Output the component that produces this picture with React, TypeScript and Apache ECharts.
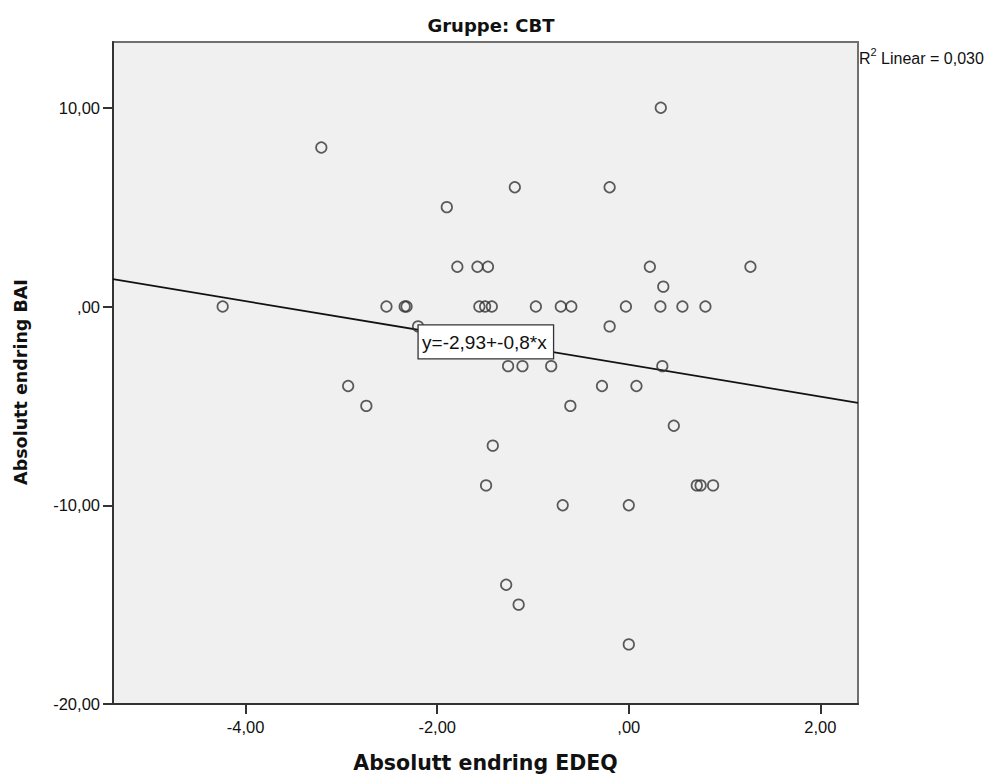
import React, { useEffect, useRef } from 'react';
import * as echarts from 'echarts';

// ---- data ----
const xValues = [
  0.334, -3.21, -1.9, -1.19, -0.2,
  -1.79, -1.58, -1.47, 0.22, 1.27,
  0.36,
  -4.24, -2.53, -2.34, -2.32, -1.56, -1.5, -1.43, -0.97, -0.71, -0.6, -0.03, 0.33, 0.56, 0.8,
  -2.2, -0.2,
  -1.26, -1.11, -0.81, 0.35,
  -2.93, -0.28, 0.08,
  -2.74, -0.61,
  0.47,
  -1.42,
  -1.49, 0.71, 0.75, 0.88,
  -0.69, 0.0,
  -1.28,
  -1.15,
  0.0,
];
const yValues = [
  10, 8, 5, 6, 6,
  2, 2, 2, 2, 2,
  1,
  0, 0, 0, 0, 0, 0, 0, 0, 0, 0, 0, 0, 0, 0,
  -1, -1,
  -3, -3, -3, -3,
  -4, -4, -4,
  -5, -5,
  -6,
  -7,
  -9, -9, -9, -9,
  -10, -10,
  -14,
  -15,
  -17,
];
const xTicks = [-4, -2, 0, 2];
const yTicks = [-20, -10, 0, 10];
const xRange = [-5.385, 2.393];
const yRange = [-20, 13.31];
const fitIntercept = -2.93;
const fitSlope = -0.8;
const fitLabel = 'y=-2,93+-0,8*x';
const fitLabelAnchor = [-2.2, -0.92];
const rSquaredText = '0,030';
const chartTitle = 'Gruppe: CBT';
const xAxisTitle = 'Absolutt endring EDEQ';
const yAxisTitle = 'Absolutt endring BAI';

const fmt = (v: number) => {
  const s = Math.abs(v).toFixed(2).replace('.', ',');
  const t = s.startsWith('0,') ? s.slice(1) : s;
  return (v < 0 ? '-' : '') + t;
};

const App: React.FC = () => {
  const ref = useRef<HTMLDivElement>(null);

  useEffect(() => {
    if (!ref.current) return;
    const chart = echarts.init(ref.current, undefined, { renderer: 'svg' });
    const points = xValues.map((x, i) => [x, yValues[i]]);
    const fitLine = [
      [xRange[0], fitIntercept + fitSlope * xRange[0]],
      [xRange[1], fitIntercept + fitSlope * xRange[1]],
    ];
    const tickFont = {
      fontFamily: '"Liberation Sans", Arial, sans-serif',
      fontSize: 16.5,
      color: '#111',
    };
    const baseGraphics: any[] = [
      {
        type: 'text',
        x: 491,
        y: 25,
        style: {
          text: chartTitle,
          font: 'bold 18px "DejaVu Sans", sans-serif',
          fill: '#111',
          align: 'center',
          verticalAlign: 'middle',
        },
      },
      {
        type: 'text',
        x: 485.5,
        y: 763,
        style: {
          text: xAxisTitle,
          font: 'bold 20.5px "DejaVu Sans", sans-serif',
          fill: '#111',
          align: 'center',
          verticalAlign: 'middle',
        },
      },
      {
        type: 'text',
        x: 21,
        y: 382,
        rotation: Math.PI / 2,
        style: {
          text: yAxisTitle,
          font: 'bold 17.5px "DejaVu Sans", sans-serif',
          fill: '#111',
          align: 'center',
          verticalAlign: 'middle',
        },
      },
      {
        type: 'text',
        x: 859,
        y: 56,
        style: {
          text: '{a|R}{s|2}{a| Linear = ' + rSquaredText + '}',
          align: 'left',
          verticalAlign: 'middle',
          rich: {
            a: {
              fontFamily: '"Liberation Sans", Arial, sans-serif',
              fontSize: 16,
              lineHeight: 20,
              fill: '#111',
              color: '#111',
              verticalAlign: 'bottom',
            },
            s: {
              fontFamily: '"Liberation Sans", Arial, sans-serif',
              fontSize: 11,
              lineHeight: 20,
              fill: '#111',
              color: '#111',
              verticalAlign: 'top',
            },
          },
        },
      },
    ];
    const option: any = {
      animation: false,
      backgroundColor: '#ffffff',
      grid: {
        left: 113,
        top: 42,
        right: 141,
        bottom: 74,
        show: true,
        backgroundColor: '#f0f0f0',
        borderColor: '#707070',
        borderWidth: 2,
      },
      xAxis: {
        type: 'value',
        min: xRange[0],
        max: xRange[1],
        splitLine: { show: false },
        axisLine: { show: true, onZero: false, lineStyle: { color: '#333', width: 2 } },
        axisTick: {
          show: true,
          length: 10,
          lineStyle: { color: '#333', width: 2 },
          customValues: xTicks,
        },
        axisLabel: {
          ...tickFont,
          margin: 14,
          customValues: xTicks,
          formatter: (v: number) => fmt(v),
        },
      },
      yAxis: {
        type: 'value',
        min: yRange[0],
        max: yRange[1],
        splitLine: { show: false },
        axisLine: { show: true, onZero: false, lineStyle: { color: '#333', width: 2 } },
        axisTick: {
          show: true,
          length: 10,
          lineStyle: { color: '#333', width: 2 },
          customValues: yTicks,
        },
        axisLabel: {
          ...tickFont,
          margin: 13,
          customValues: yTicks,
          formatter: (v: number) => fmt(v),
        },
      },
      series: [
        {
          type: 'line',
          data: fitLine,
          showSymbol: false,
          symbol: 'none',
          lineStyle: { color: '#111', width: 1.8 },
          z: 2,
        },
        {
          type: 'scatter',
          data: points,
          symbol: 'circle',
          symbolSize: 10.5,
          itemStyle: {
            color: 'rgba(0,0,0,0)',
            borderColor: '#333',
            borderWidth: 1.7,
          },
          z: 3,
        },
      ],
      graphic: baseGraphics,
    };
    chart.setOption(option);
    const p = chart.convertToPixel({ gridIndex: 0 }, fitLabelAnchor) as number[];
    chart.setOption({
      graphic: [
        ...baseGraphics,
        {
          type: 'rect',
          x: p[0],
          y: p[1],
          shape: { x: 0, y: 0, width: 135.5, height: 34 },
          style: { fill: '#ffffff', stroke: '#333', lineWidth: 1.3 },
          z: 10,
        },
        {
          type: 'text',
          x: p[0] + 4,
          y: p[1] + 17.5,
          style: {
            text: fitLabel,
            font: '19px "Liberation Sans", Arial, sans-serif',
            fill: '#111',
            align: 'left',
            verticalAlign: 'middle',
          },
          z: 11,
        },
      ],
    });
    return () => chart.dispose();
  }, []);

  return (
    <div
      ref={ref}
      style={{ position: 'fixed', left: 0, top: 0, width: 999, height: 778, background: '#fff' }}
    />
  );
};

export default App;
